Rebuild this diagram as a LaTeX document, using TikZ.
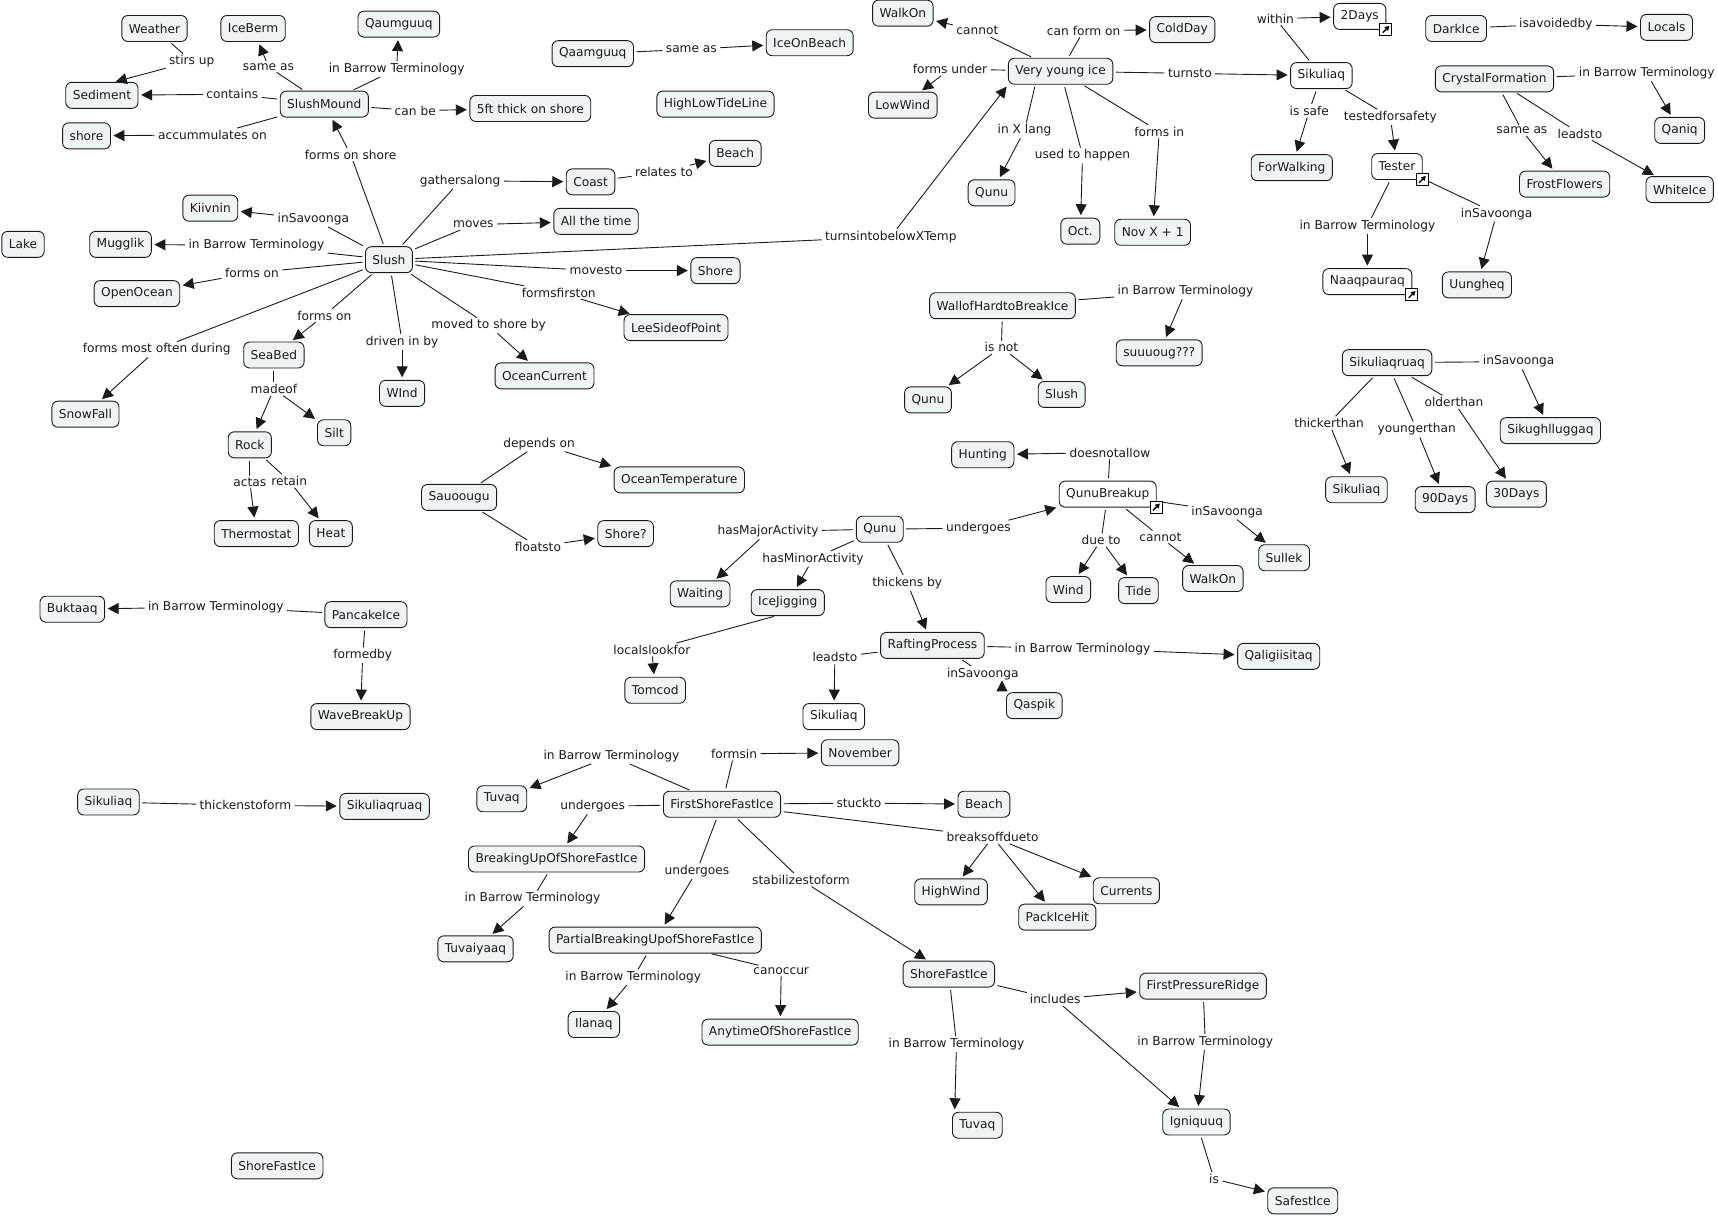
\documentclass[tikz,border=0pt]{standalone}
\usepackage{fontspec}
\setmainfont{DejaVu Sans}
\usetikzlibrary{arrows.meta}
\definecolor{cfill}{HTML}{EEF3F5}
\definecolor{cline}{HTML}{1A1A1A}
\tikzset{
 cn/.style={draw=cline,fill=cfill,rounded corners=6pt,line width=0.9pt,inner xsep=7pt,inner ysep=3pt,minimum height=26pt,text=cline,outer sep=0pt,font=\fontsize{12.2}{14}\selectfont},
 wn/.style={cn,fill=white},
 lb/.style={inner xsep=3.5pt,inner ysep=2pt,text=cline,font=\fontsize{12.2}{14}\selectfont,outer sep=0pt},
 lk/.style={draw=cline,line width=0.9pt,shorten <=3pt},
 ar/.style={draw=cline,line width=0.9pt,-{Triangle[length=11pt,width=11pt]},shorten >=3pt},
 ico/.style={draw=black,fill=white,line width=1pt,minimum size=12pt,inner sep=0pt,outer sep=0pt},
 icoar/.style={draw=black,line width=1.4pt,-{Triangle[length=4.5pt,width=5pt]}},
}
\newcommand{\cnode}[3]{\node[cn] (#1) at (#2) {#3};}
\newcommand{\wnode}[3]{\node[wn] (#1) at (#2) {#3};}
\newcommand{\lnode}[3]{\node[lb] (#1) at (#2) {#3};}
\newcommand{\lnk}[3]{\draw[lk] (#1) -- (#2); \draw[ar] (#2) -- (#3);}
\newcommand{\lnkb}[2]{\draw[ar] (#1) -- (#2);}
\newcommand{\linkicon}[1]{\node[ico] (ic#1) at (#1.south east) {};\draw[icoar] ([shift={(-3.2pt,-3.2pt)}]ic#1.center) -- ([shift={(3.6pt,3.6pt)}]ic#1.center);}
\begin{document}
\begin{tikzpicture}[x=1.0957pt,y=-1.0957pt]
\useasboundingbox (0,-1) rectangle (1568,1108);
% concepts
\cnode{weather}{141,25}{Weather}
\cnode{iceberm}{231,25}{IceBerm}
\cnode{qaumguuq}{364,21}{Qaumguuq}
\cnode{sediment}{93,86}{Sediment}
\cnode{slushmound}{296,94}{SlushMound}
\cnode{shorea}{79,123}{shore}
\cnode{fivefoot}{484,98}{5ft thick on shore}
\cnode{qaamguuq}{541,48}{Qaamguuq}
\cnode{iceonbeach}{739,38}{IceOnBeach}
\cnode{highlow}{653,94}{HighLowTideLine}
\cnode{walkona}{824,11}{WalkOn}
\cnode{vyi}{968,64}{Very young ice}
\cnode{coldday}{1079,26}{ColdDay}
\cnode{lowwind}{824,95}{LowWind}
\wnode{sikuliaqa}{1206,68}{Sikuliaq}
\wnode{twodays}{1241,14}{2Days}
\cnode{darkice}{1329,25}{DarkIce}
\cnode{locals}{1521,24}{Locals}
\cnode{crystal}{1364,71}{CrystalFormation}
\cnode{qaniq}{1533,118}{Qaniq}
\cnode{frost}{1428,167}{FrostFlowers}
\cnode{whiteice}{1533,172}{WhiteIce}
\cnode{forwalking}{1179,152}{ForWalking}
\wnode{tester}{1275,151}{Tester}
\wnode{naaq}{1248,256}{Naaqpauraq}
\cnode{uungheq}{1348,259}{Uungheq}
\cnode{beacha}{671,139}{Beach}
\cnode{coast}{539,165}{Coast}
\cnode{allthetime}{544,201}{All the time}
\cnode{kiivnin}{192,189}{Kiivnin}
\cnode{mugglik}{110,222}{Mugglik}
\cnode{lake}{21,222}{Lake}
\cnode{slusha}{355,236}{Slush}
\cnode{openocean}{125,267}{OpenOcean}
\cnode{shoreb}{653,246}{Shore}
\cnode{leeside}{617,298}{LeeSideofPoint}
\cnode{qunua}{905,175}{Qunu}
\cnode{oct}{986,210}{Oct.}
\cnode{novx}{1052,211}{Nov X + 1}
\cnode{wall}{915,278}{WallofHardtoBreakIce}
\cnode{suuuoug}{1058,321}{suuuoug???}
\cnode{qunub}{847,364}{Qunu}
\cnode{slushb}{969,359}{Slush}
\cnode{snowfall}{78,377}{SnowFall}
\cnode{seabed}{250,323}{SeaBed}
\cnode{wind}{367,358}{WInd}
\cnode{oceancurrent}{497,342}{OceanCurrent}
\cnode{rock}{228,405}{Rock}
\cnode{silt}{305,394}{Silt}
\cnode{thermostat}{234,486}{Thermostat}
\cnode{heat}{302,486}{Heat}
\cnode{oceantemp}{620,437}{OceanTemperature}
\cnode{sauougu}{419,453}{Sauoougu}
\cnode{shorec}{571,486}{Shore?}
\cnode{hunting}{897,414}{Hunting}
\wnode{qbreak}{1011,450}{QunuBreakup}
\cnode{qunuc}{803,482}{Qunu}
\cnode{sullek}{1172,508}{Sullek}
\cnode{windb}{975,537}{Wind}
\cnode{tide}{1039,538}{Tide}
\cnode{walkonb}{1107,527}{WalkOn}
\cnode{waiting}{639,541}{Waiting}
\cnode{icejig}{719,549}{IceJigging}
\cnode{rafting}{851,588}{RaftingProcess}
\cnode{qalig}{1167,598}{Qaligiisitaq}
\cnode{qaspik}{944,643}{Qaspik}
\cnode{tomcod}{598,629}{Tomcod}
\wnode{sikuliaqb}{761,653}{Sikuliaq}
\cnode{buktaaq}{66,555}{Buktaaq}
\cnode{pancake}{334,560}{PancakeIce}
\cnode{wavebreak}{329,653}{WaveBreakUp}
\cnode{sikruaqa}{1266,330}{Sikuliaqruaq}
\cnode{sikugh}{1415,392}{Sikughlluggaq}
\cnode{sikuliaqc}{1238,446}{Sikuliaq}
\cnode{ninety}{1319,455}{90Days}
\cnode{thirty}{1384,450}{30Days}
\cnode{november}{785,686}{November}
\cnode{tuvaqa}{458,728}{Tuvaq}
\cnode{firstshore}{659,733}{FirstShoreFastIce}
\cnode{beachb}{898,733}{Beach}
\cnode{sikuliaqd}{99,731}{Sikuliaq}
\cnode{sikruaqb}{351,735}{Sikuliaqruaq}
\cnode{breakingup}{508,783}{BreakingUpOfShoreFastIce}
\cnode{highwind}{868,813}{HighWind}
\cnode{packice}{965,836}{PackIceHit}
\cnode{currents}{1028,812}{Currents}
\cnode{tuvaiyaaq}{434,865}{Tuvaiyaaq}
\cnode{partial}{598,857}{PartialBreakingUpofShoreFastIce}
\cnode{sfia}{866,888}{ShoreFastIce}
\cnode{firstridge}{1098,899}{FirstPressureRidge}
\cnode{ilanaq}{542,934}{Ilanaq}
\cnode{anytime}{712,941}{AnytimeOfShoreFastIce}
\cnode{tuvaqb}{892,1026}{Tuvaq}
\cnode{igniquuq}{1092,1023}{Igniquuq}
\cnode{sfib}{253,1063}{ShoreFastIce}
\cnode{safest}{1189,1095}{SafestIce}
% linking phrases
\lnode{l1}{175,55}{stirs up}
\lnode{l2}{245,60}{same as}
\lnode{l3}{362,62}{in Barrow Terminology}
\lnode{l4}{212,85}{contains}
\lnode{l5}{194,122}{accummulates on}
\lnode{l6}{379,100}{can be}
\lnode{l7}{320,140}{forms on shore}
\lnode{l8}{631,44}{same as}
\lnode{l9}{420,164}{gathersalong}
\lnode{l10}{606,156}{relates to}
\lnode{l11}{432,204}{moves}
\lnode{l12}{286,199}{inSavoonga}
\lnode{l13}{234,223}{in Barrow Terminology}
\lnode{l14}{230,248}{forms on}
\lnode{l15}{544,246}{movesto}
\lnode{l16}{510,266}{formsfirston}
\lnode{l17}{296,287}{forms on}
\lnode{l18}{143,318}{forms most often during}
\lnode{l19}{367,311}{driven in by}
\lnode{l20}{446,296}{moved to shore by}
\lnode{l21}{813,215}{turnsintobelowXTemp}
\lnode{l22}{250,354}{madeof}
\lnode{l23}{228,439}{actas}
\lnode{l24}{264,438}{retain}
\lnode{l25}{892,27}{cannot}
\lnode{l26}{989,27}{can form on}
\lnode{l27}{867,62}{forms under}
\lnode{l28}{1086,66}{turnsto}
\lnode{l29}{935,118}{in X lang}
\lnode{l30}{988,141}{used to happen}
\lnode{l31}{1058,119}{forms in}
\lnode{l32}{1164,16}{within}
\lnode{l33}{1195,100}{is safe}
\lnode{l34}{1269,106}{testedforsafety}
\lnode{l35}{1420,21}{isavoidedby}
\lnode{l36}{1503,66}{in Barrow Terminology}
\lnode{l37}{1389,118}{same as}
\lnode{l38}{1442,121}{leadsto}
\lnode{l39}{1248,205}{in Barrow Terminology}
\lnode{l40}{1366,194}{inSavoonga}
\lnode{l41}{1082,265}{in Barrow Terminology}
\lnode{l42}{914,316}{is not}
\lnode{l43}{1386,329}{inSavoonga}
\lnode{l44}{1213,385}{thickerthan}
\lnode{l45}{1293,391}{youngerthan}
\lnode{l46}{1327,366}{olderthan}
\lnode{l47}{1013,412}{doesnotallow}
\lnode{l48}{1120,466}{inSavoonga}
\lnode{l49}{1005,492}{due to}
\lnode{l50}{1059,489}{cannot}
\lnode{l51}{893,481}{undergoes}
\lnode{l52}{701,484}{hasMajorActivity}
\lnode{l53}{742,509}{hasMinorActivity}
\lnode{l54}{828,531}{thickens by}
\lnode{l55}{492,404}{depends on}
\lnode{l56}{491,498}{floatsto}
\lnode{l57}{595,592}{localslookfor}
\lnode{l58}{762,599}{leadsto}
\lnode{l59}{988,591}{in Barrow Terminology}
\lnode{l60}{897,614}{inSavoonga}
\lnode{l61}{197,553}{in Barrow Terminology}
\lnode{l62}{331,597}{formedby}
\lnode{l63}{558,689}{in Barrow Terminology}
\lnode{l64}{670,687}{formsin}
\lnode{l65}{541,735}{undergoes}
\lnode{l66}{784,732}{stuckto}
\lnode{l67}{906,763}{breaksoffdueto}
\lnode{l68}{636,794}{undergoes}
\lnode{l69}{731,802}{stabilizestoform}
\lnode{l70}{224,734}{thickenstoform}
\lnode{l71}{486,819}{in Barrow Terminology}
\lnode{l72}{578,891}{in Barrow Terminology}
\lnode{l73}{713,885}{canoccur}
\lnode{l74}{963,911}{includes}
\lnode{l75}{873,952}{in Barrow Terminology}
\lnode{l76}{1100,950}{in Barrow Terminology}
\lnode{l77}{1108,1075}{is}
% connectors
\lnk{weather}{l1}{[shift={(10,0)}]sediment.north}
\lnk{slushmound}{l2}{iceberm}
\lnk{slushmound}{l3}{qaumguuq}
\lnk{slushmound}{l4}{sediment}
\lnk{slushmound}{l5}{shorea}
\lnk{slushmound}{l6}{fivefoot}
\lnk{slusha}{l7}{slushmound}
\lnk{qaamguuq}{l8}{iceonbeach}
\lnk{slusha}{l9}{coast}
\lnk{coast}{l10}{beacha}
\lnk{slusha}{l11}{allthetime}
\lnk{slusha}{l12}{kiivnin}
\lnk{slusha}{l13}{mugglik}
\lnk{slusha}{l14}{openocean}
\lnk{slusha}{l15}{shoreb}
\lnk{slusha}{l16}{leeside}
\lnk{slusha}{l17}{seabed}
\lnk{slusha}{l18}{snowfall}
\lnk{slusha}{l19}{wind}
\lnk{slusha}{l20}{oceancurrent}
\lnk{slusha}{l21}{vyi.south west}
\lnk{seabed}{l22}{rock}
\lnkb{l22}{silt}
\lnk{rock}{l23}{thermostat}
\lnk{rock}{l24}{heat}
\lnk{vyi}{l25}{walkona}
\lnk{vyi}{l26}{coldday}
\lnk{vyi}{l27}{lowwind}
\lnk{vyi}{l28}{sikuliaqa}
\lnk{[shift={(-23,0)}]vyi.south}{l29}{qunua}
\lnk{vyi}{l30}{oct}
\lnk{vyi}{l31}{novx}
\lnk{sikuliaqa}{l32}{twodays}
\lnk{sikuliaqa}{l33}{forwalking}
\lnk{sikuliaqa}{l34}{tester}
\lnk{darkice}{l35}{locals}
\lnk{crystal}{l36}{qaniq}
\lnk{crystal}{l37}{frost}
\lnk{crystal}{l38}{whiteice}
\lnk{tester}{l39}{naaq}
\lnk{tester}{l40}{uungheq}
\lnk{wall}{l41}{suuuoug}
\lnk{wall}{l42}{qunub}
\lnkb{l42}{slushb}
\lnk{sikruaqa}{l43}{sikugh}
\lnk{sikruaqa}{l44}{sikuliaqc}
\lnk{sikruaqa}{l45}{ninety}
\lnk{sikruaqa}{l46}{thirty}
\lnk{qbreak}{l47}{hunting}
\lnk{qbreak}{l48}{sullek}
\lnk{qbreak}{l49}{windb}
\lnkb{l49}{tide}
\lnk{qbreak}{l50}{walkonb}
\lnk{qunuc}{l51}{qbreak}
\lnk{qunuc}{l52}{waiting}
\lnk{qunuc}{l53}{icejig}
\lnk{qunuc}{l54}{rafting}
\lnk{sauougu}{l55}{oceantemp.north west}
\lnk{sauougu}{l56}{shorec}
\lnk{[shift={(-10,0)}]icejig.south}{l57}{tomcod}
\lnk{rafting}{l58}{sikuliaqb}
\lnk{rafting}{l59}{qalig}
\draw[lk] ([shift={(25,0)}]rafting.south) -- (l60);
\coordinate (qsb) at (914.5,629);
\coordinate (qst) at (914.5,620);
\draw[ar,shorten >=0pt] (qsb) -- (qst);
\lnk{pancake}{l61}{buktaaq}
\lnk{pancake}{l62}{wavebreak}
\lnk{firstshore}{l63}{tuvaqa}
\lnk{firstshore}{l64}{november}
\lnk{firstshore}{l65}{breakingup}
\lnk{firstshore}{l66}{beachb}
\lnk{firstshore}{l67}{highwind}
\lnkb{l67}{packice}
\lnkb{l67}{currents}
\lnk{firstshore}{l68}{partial}
\lnk{firstshore}{l69}{sfia}
\lnk{sikuliaqd}{l70}{sikruaqb}
\lnk{breakingup}{l71}{tuvaiyaaq}
\lnk{partial}{l72}{ilanaq}
\lnk{partial}{l73}{anytime}
\lnk{sfia}{l74}{firstridge}
\lnkb{l74}{igniquuq}
\lnk{sfia}{l75}{[shift={(2,0)}]tuvaqb.north west}
\lnk{firstridge}{l76}{igniquuq}
\lnk{igniquuq}{l77}{safest}
% link icons
\linkicon{twodays}
\linkicon{tester}
\linkicon{naaq}
\linkicon{qbreak}
\end{tikzpicture}
\end{document}
